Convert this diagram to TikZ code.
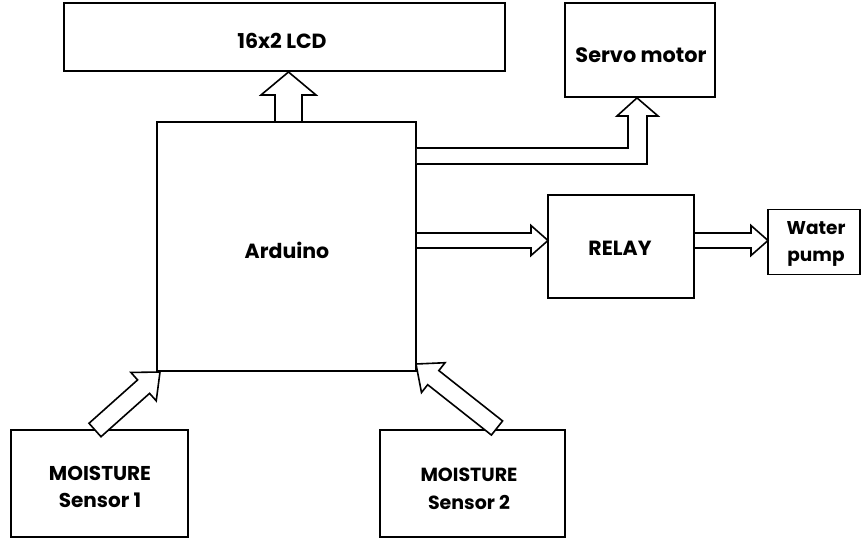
\documentclass[tikz,border=0pt]{standalone}
\usepackage{fontspec}
\setmainfont{Poppins}
\usetikzlibrary{calc}
\tikzset{
  blk/.style={draw, line width=1.8pt, inner sep=0pt},
  lbl/.style={font=\bfseries\fontsize{20.5}{27}\selectfont, align=center, inner sep=0pt},
  fat/.style={draw, line width=1.6pt, fill=white, line join=miter},
}
% block arrow from #1 (tail) to #2 (tip): shaft width #3, head width #4, head length #5
\newcommand{\blockarr}[5]{%
  \path ($(#2)!#5!(#1)$) coordinate (hb);
  \draw[fat] ($(#1)!#3/2!90:(#2)$) -- ($(hb)!#3/2!90:(#2)$) -- ($(hb)!#4/2!90:(#2)$) -- (#2)
    -- ($(hb)!#4/2!-90:(#2)$) -- ($(hb)!#3/2!-90:(#2)$) -- ($(#1)!#3/2!-90:(#2)$) -- cycle;
}
\begin{document}
\begin{tikzpicture}[x=1pt,y=-1pt]
\useasboundingbox (0,0) rectangle (863,540);
% boxes
\node[blk, minimum width=441pt, minimum height=68pt] (lcd) at (284.5,37) {};
\node[lbl] (lcdL) at (282,41) {16x2 LCD};
\node[blk, minimum width=150pt, minimum height=94pt] (servo) at (640,50) {};
\node[lbl, font=\bfseries\fontsize{20.8}{27}\selectfont] (servoL) at (641,55) {Servo motor};
\node[blk, minimum width=259pt, minimum height=249pt] (ard) at (286.5,246.5) {};
\node[lbl] (ardL) at (287,250) {Arduino};
\node[blk, minimum width=146pt, minimum height=103pt] (relay) at (621,246.5) {};
\node[lbl] (relayL) at (620,248) {RELAY};
\node[blk, minimum width=92pt, minimum height=65pt] (pump) at (814,242) {};
\node[lbl, font=\bfseries\fontsize{18.5}{27}\selectfont] (pumpL) at (816,244) {Water\\pump};
\node[blk, minimum width=177pt, minimum height=107pt] (m1) at (99.5,483.5) {};
\node[lbl, font=\bfseries\fontsize{20}{27}\selectfont] (m1L) at (100,487) {MOISTURE\\Sensor 1};
\node[blk, minimum width=185pt, minimum height=107pt] (m2) at (472.5,483.5) {};
\node[lbl, font=\bfseries\fontsize{19}{28}\selectfont] (m2L) at (469,489) {MOISTURE\\Sensor 2};
% connector anchor coordinates
\coordinate (lcdT) at (288.5,122);
\coordinate (lcdH) at (288.5,72);
\coordinate (relT) at (416,240.5);
\coordinate (relH) at (548,240.5);
\coordinate (pumT) at (694,240.5);
\coordinate (pumH) at (768,240.5);
\coordinate (m1T) at (95,430);
\coordinate (m1H) at (160,372);
\coordinate (m2T) at (497,428);
\coordinate (m2H) at (416,364);
% arrows
\blockarr{lcdT}{lcdH}{27pt}{55pt}{23pt}
\blockarr{relT}{relH}{15pt}{30pt}{17pt}
\blockarr{pumT}{pumH}{15pt}{30pt}{17pt}
\blockarr{m1T}{m1H}{18pt}{38pt}{22pt}
\blockarr{m2T}{m2H}{18pt}{38pt}{22pt}
% servo elbow arrow
\draw[fat] (ard.east |- 0,148) -- (628,148) -- (628,116) -- (617,116) -- (servo.south -| 637,0)
  -- (658,116) -- (647,116) -- (647,164) -- (ard.east |- 0,164);
\end{tikzpicture}
\end{document}
